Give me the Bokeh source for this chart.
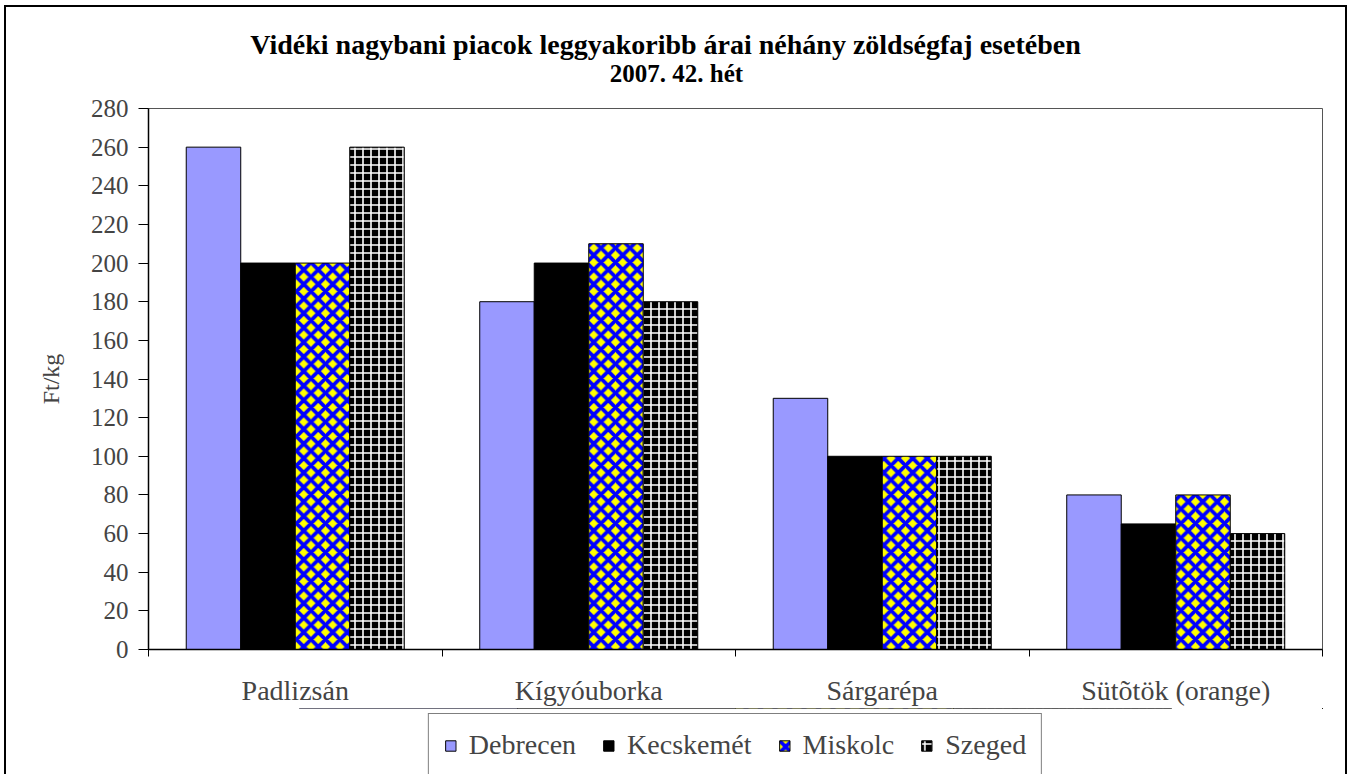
from bokeh.plotting import figure
from bokeh.layouts import column
from bokeh.models import (ColumnDataSource, FixedTicker, Legend, LegendItem,
                          Label, LinearAxis, Range1d)
from bokeh.embed import file_html
from bokeh.resources import INLINE

categories = ["Padlizsán", "Kígyóuborka", "Sárgarépa", "Sütõtök (orange)"]
series = ["Debrecen", "Kecskemét", "Miskolc", "Szeged"]
debrecen = [260, 180, 130, 80]
kecskemet = [200, 200, 100, 65]
miskolc = [200, 210, 100, 80]
szeged = [260, 180, 100, 60]
y_ticks = list(range(0, 281, 20))

title1 = "Vidéki nagybani piacok leggyakoribb árai néhány zöldségfaj esetében"
title2 = "2007. 42. hét"
y_label = "Ft/kg"

SERIF = "Liberation Serif"
FRAME_W = 1174
BORDER_L = 142
BORDER_R = 23


def strip(h):
    f = figure(frame_width=FRAME_W, frame_height=h, output_backend="svg",
               toolbar_location=None, min_border_left=BORDER_L, min_border_right=BORDER_R,
               min_border_top=0, min_border_bottom=0, x_axis_type=None, y_axis_type=None,
               x_range=Range1d(0, 1), y_range=Range1d(-2, -1),
               background_fill_color="white", border_fill_color="white")
    f.outline_line_color = None
    f.xgrid.visible = False
    f.ygrid.visible = False
    return f


# ---- title strip ----
top = strip(81)
top.add_layout(Label(x=517, y=44, x_units="screen", y_units="screen", text=title1,
                     text_align="center", text_baseline="middle", text_font=SERIF,
                     text_font_style="bold", text_font_size="28px", text_color="black"))
top.add_layout(Label(x=528, y=15, x_units="screen", y_units="screen", text=title2,
                     text_align="center", text_baseline="middle", text_font=SERIF,
                     text_font_style="bold", text_font_size="25px", text_color="black"))

# ---- main chart ----
p = figure(frame_width=FRAME_W, frame_height=541, output_backend="svg", toolbar_location=None,
           x_range=Range1d(0, len(categories)), y_range=Range1d(0, 280),
           min_border_left=BORDER_L, min_border_right=BORDER_R, min_border_top=20,
           min_border_bottom=58, x_axis_type=None, y_axis_type=None,
           background_fill_color="white", border_fill_color="white")
p.outline_line_color = "#555555"
p.outline_line_width = 1

bar_w = 0.1857
offsets = [-1.5, -0.5, 0.5, 1.5]
styles = [
    dict(fill_color="#9999FF"),
    dict(fill_color="black"),
    dict(fill_color="yellow", hatch_pattern="diagonal_cross", hatch_color="#0000FF",
         hatch_scale=14.5, hatch_weight=3.8),
    dict(fill_color="black", hatch_pattern="cross", hatch_color="white",
         hatch_scale=8, hatch_weight=1.6),
]
values = [debrecen, kecskemet, miskolc, szeged]
sources = []
for j, (name, vals, st) in enumerate(zip(series, values, styles)):
    xs = [i + 0.5 + offsets[j] * bar_w for i in range(len(categories))]
    src = ColumnDataSource(dict(x=xs, top=vals))
    sources.append(src)
    p.vbar(x="x", top="top", bottom=0, width=bar_w, source=src,
           line_color="black", line_width=1, **st)

p.xgrid.visible = False
p.ygrid.ticker = FixedTicker(ticks=y_ticks)
p.ygrid.grid_line_color = "black"
p.ygrid.grid_line_width = 1
p.ygrid.level = "underlay"

yax = LinearAxis(ticker=FixedTicker(ticks=y_ticks), axis_label=y_label)
yax.axis_line_color = "black"
yax.axis_line_width = 1.5
yax.major_tick_in = 0
yax.major_tick_out = 10
yax.minor_tick_line_color = None
yax.major_label_text_font = SERIF
yax.major_label_text_font_size = "25px"
yax.major_label_standoff = 10
yax.axis_label_text_font = SERIF
yax.axis_label_text_font_style = "normal"
yax.axis_label_text_font_size = "24px"
yax.axis_label_standoff = 24
p.add_layout(yax, "left")

centres = [i + 0.5 for i in range(len(categories))]
bounds = list(range(len(categories) + 1))
xax = LinearAxis(ticker=FixedTicker(ticks=centres, minor_ticks=bounds))
xax.major_label_overrides = {c: lab for c, lab in zip(centres, categories)}
xax.axis_line_color = "black"
xax.axis_line_width = 1.5
xax.major_tick_line_color = None
xax.major_tick_in = 0
xax.major_tick_out = 0
xax.minor_tick_in = 0
xax.minor_tick_out = 7
xax.minor_tick_line_color = "black"
xax.major_label_text_font = SERIF
xax.major_label_text_font_size = "28px"
xax.major_label_standoff = 18
p.add_layout(xax, "below")

# ---- legend strip (same sources, drawn outside its visible range) ----
leg = strip(67)
leg_renderers = [leg.vbar(x="x", top="top", bottom=0, width=bar_w, source=src,
                          line_color="black", line_width=1, **st)
                 for src, st in zip(sources, styles)]
legend = Legend(items=[LegendItem(label=n, renderers=[r]) for n, r in zip(series, leg_renderers)],
                orientation="horizontal", location="top")
legend.label_text_font = SERIF
legend.label_text_font_size = "28px"
legend.glyph_width = 13
legend.glyph_height = 13
legend.label_standoff = 12
legend.spacing = 26
legend.padding = 15
legend.margin = 5
legend.border_line_color = "black"
legend.border_line_width = 1
legend.background_fill_alpha = 1
leg.add_layout(legend)

layout = column(top, p, leg, spacing=0)
layout.styles = {"border": "2px solid black", "margin-left": "4px", "margin-top": "5px"}

open("out.html", "w").write(file_html(layout, INLINE))
